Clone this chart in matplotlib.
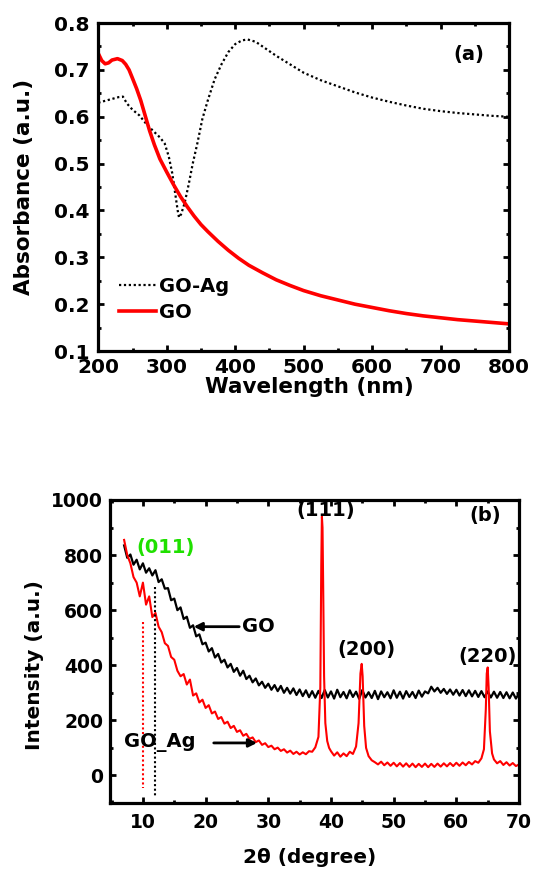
import numpy as np
import matplotlib
matplotlib.use("Agg")
import matplotlib.pyplot as plt
from matplotlib.ticker import MultipleLocator

plt.rcParams["font.family"] = "DejaVu Sans"
plt.rcParams["font.weight"] = "bold"
plt.rcParams["axes.labelweight"] = "bold"

# ---- (a) UV-Vis data ----
go_wl = [200, 205, 210, 215, 220, 228, 235, 240, 245, 250, 256, 262, 268, 275,
         282, 290, 300, 310, 320, 330, 340, 350, 360, 375, 390, 405, 420, 440,
         460, 480, 500, 525, 550, 575, 600, 625, 650, 675, 700, 725, 750, 775, 800]
go_abs = [0.735, 0.720, 0.713, 0.715, 0.721, 0.724, 0.720, 0.712, 0.700, 0.682,
          0.660, 0.635, 0.605, 0.570, 0.540, 0.510, 0.482, 0.455, 0.430, 0.408,
          0.388, 0.370, 0.355, 0.334, 0.315, 0.298, 0.283, 0.267, 0.252, 0.240,
          0.229, 0.218, 0.209, 0.200, 0.193, 0.186, 0.180, 0.175, 0.171, 0.167,
          0.164, 0.161, 0.158]

goag_wl = [200, 210, 220, 230, 236, 242, 250, 260, 270, 280, 290, 297, 303, 308,
           312, 316, 318, 321, 326, 332, 338, 345, 352, 360, 370, 380, 390, 400,
           410, 418, 430, 445, 460, 480, 500, 525, 550, 575, 600, 625, 650, 675,
           700, 725, 750, 775, 800]
goag_abs = [0.630, 0.634, 0.638, 0.642, 0.643, 0.628, 0.615, 0.603, 0.585, 0.570,
            0.556, 0.543, 0.515, 0.480, 0.440, 0.400, 0.385, 0.392, 0.415, 0.455,
            0.500, 0.545, 0.595, 0.635, 0.680, 0.712, 0.738, 0.755, 0.763, 0.765,
            0.760, 0.745, 0.730, 0.712, 0.694, 0.678, 0.665, 0.652, 0.641, 0.632,
            0.624, 0.617, 0.612, 0.608, 0.605, 0.602, 0.600]

# ---- (b) XRD data ----
go_2t = [7.0, 7.5, 8.0, 8.5, 9.0, 9.5, 10.0, 10.5, 11.0, 11.5,
         12.0, 12.5, 13.0, 13.5, 14.0, 14.5, 15.0, 15.5, 16.0, 16.5,
         17.0, 17.5, 18.0, 18.5, 19.0, 19.5, 20.0, 20.5, 21.0, 21.5,
         22.0, 22.5, 23.0, 23.5, 24.0, 24.5, 25.0, 25.5, 26.0, 26.5,
         27.0, 27.5, 28.0, 28.5, 29.0, 29.5, 30.0, 30.5, 31.0, 31.5,
         32.0, 32.5, 33.0, 33.5, 34.0, 34.5, 35.0, 35.5, 36.0, 36.5,
         37.0, 37.5, 38.0, 38.5, 39.0, 39.5, 40.0, 40.5, 41.0, 41.5,
         42.0, 42.5, 43.0, 43.5, 44.0, 44.5, 45.0, 45.5, 46.0, 46.5,
         47.0, 47.5, 48.0, 48.5, 49.0, 49.5, 50.0, 50.5, 51.0, 51.5,
         52.0, 52.5, 53.0, 53.5, 54.0, 54.5, 55.0, 55.5, 56.0, 56.5,
         57.0, 57.5, 58.0, 58.5, 59.0, 59.5, 60.0, 60.5, 61.0, 61.5,
         62.0, 62.5, 63.0, 63.5, 64.0, 64.5, 65.0, 65.5, 66.0, 66.5,
         67.0, 67.5, 68.0, 68.5, 69.0, 69.5, 70.0]
go_int = [835, 790, 802, 765, 783, 748, 770, 736, 752, 726,
          745, 702, 712, 678, 680, 636, 642, 600, 610, 568,
          576, 536, 545, 505, 512, 476, 482, 450, 462, 428,
          441, 410, 420, 392, 405, 376, 390, 362, 380, 350,
          362, 338, 352, 327, 340, 318, 333, 311, 328, 306,
          325, 300, 318, 297, 316, 292, 312, 288, 309, 284,
          306, 282, 307, 281, 310, 283, 305, 279, 311, 284,
          303, 280, 309, 285, 304, 278, 310, 283, 302, 281,
          307, 277, 305, 284, 302, 280, 309, 282, 304, 279,
          306, 285, 303, 281, 308, 286, 305, 298, 322, 305,
          318, 300, 314, 296, 312, 293, 311, 290, 310, 288,
          309, 287, 307, 285, 306, 284, 305, 283, 304, 282,
          303, 281, 302, 280, 301, 279, 298]

goag_2t = [7.0, 7.5, 8.0, 8.5, 9.0, 9.5, 10.0, 10.5, 11.0, 11.5,
           12.0, 12.5, 13.0, 13.5, 14.0, 14.5, 15.0, 15.5, 16.0, 16.5,
           17.0, 17.5, 18.0, 18.5, 19.0, 19.5, 20.0, 20.5, 21.0, 21.5,
           22.0, 22.5, 23.0, 23.5, 24.0, 24.5, 25.0, 25.5, 26.0, 26.5,
           27.0, 27.5, 28.0, 28.5, 29.0, 29.5, 30.0, 30.5, 31.0, 31.5,
           32.0, 32.5, 33.0, 33.5, 34.0, 34.5, 35.0, 35.5, 36.0, 36.5,
           37.0, 37.5, 38.0, 38.3, 38.45, 38.55, 38.65, 38.75, 38.9, 39.1,
           39.4, 39.7, 40.0, 40.5, 41.0, 41.5, 42.0, 42.5, 43.0, 43.5,
           44.0, 44.4, 44.7, 44.9, 45.05, 45.3, 45.6, 46.0, 46.5, 47.0,
           47.5, 48.0, 48.5, 49.0, 49.5, 50.0, 50.5, 51.0, 51.5, 52.0,
           52.5, 53.0, 53.5, 54.0, 54.5, 55.0, 55.5, 56.0, 56.5, 57.0,
           57.5, 58.0, 58.5, 59.0, 59.5, 60.0, 60.5, 61.0, 61.5, 62.0,
           62.5, 63.0, 63.5, 64.0, 64.4, 64.7, 64.85, 65.0, 65.15, 65.35,
           65.7, 66.0, 66.5, 67.0, 67.5, 68.0, 68.5, 69.0, 69.5, 70.0]
goag_int = [855, 800, 770, 720, 700, 650, 700, 620, 650, 575,
            590, 540, 520, 480, 470, 430, 420, 380, 360, 368,
            330, 348, 290, 298, 265, 275, 245, 255, 225, 232,
            205, 212, 188, 195, 172, 180, 158, 164, 144, 151,
            133, 138, 121, 127, 111, 117, 103, 108, 95, 101,
            89, 95, 83, 90, 78, 86, 76, 84, 77, 88,
            86, 102, 140, 320, 760, 940, 900, 700, 360, 190,
            125, 100, 88, 72, 84, 68, 80, 70, 86, 78,
            105, 190, 370, 405, 360, 180, 100, 70, 55, 48,
            40, 50, 37, 47, 35, 46, 33, 45, 32, 44,
            31, 43, 30, 42, 31, 43, 30, 42, 31, 43,
            32, 44, 33, 45, 34, 46, 35, 47, 37, 49,
            40, 52, 46, 62, 95, 240, 370, 392, 320, 160,
            80, 58, 44, 52, 38, 48, 36, 45, 34, 40]

green = "#20e000"

fig = plt.figure(figsize=(5.33, 8.73), dpi=100)

# ---------- panel (a) ----------
ax1 = fig.add_axes([0.1844, 0.5979, 0.7705, 0.3757])
ax1.plot(goag_wl, goag_abs, color="black", lw=1.6, dashes=(1, 1.2), label="GO-Ag")
ax1.plot(go_wl, go_abs, color="red", lw=2.6, label="GO")
ax1.set_xlim(200, 800)
ax1.set_ylim(0.1, 0.8)
ax1.xaxis.set_major_locator(MultipleLocator(100))
ax1.xaxis.set_minor_locator(MultipleLocator(50))
ax1.yaxis.set_major_locator(MultipleLocator(0.1))
ax1.yaxis.set_minor_locator(MultipleLocator(0.05))
ax1.set_xlabel("Wavelength (nm)", fontsize=15.5)
ax1.set_ylabel("Absorbance (a.u.)", fontsize=15.5)
ax1.xaxis.set_label_coords(0.513, -0.078)
ax1.yaxis.set_label_coords(-0.157, 0.5)
ax1.text(741, 0.733, "(a)", fontsize=14, ha="center", va="center")
ax1.legend(loc="lower left", bbox_to_anchor=(0.05, 0.09), frameon=False,
           fontsize=14, handlelength=1.9, handletextpad=0.15,
           labelspacing=0.35, borderpad=0, borderaxespad=0)

# ---------- panel (b) ----------
ax2 = fig.add_axes([0.2064, 0.0802, 0.7674, 0.3471])
ax2.plot(go_2t, go_int, color="black", lw=1.6)
ax2.plot(goag_2t, goag_int, color="red", lw=1.5)
ax2.plot([10, 10], [558, -45], color="red", lw=1.5, dashes=(1, 1.2))
ax2.plot([12, 12], [685, -77], color="black", lw=1.5, dashes=(1, 1.2))
ax2.set_xlim(4.75, 70)
ax2.set_ylim(-100, 1000)
ax2.xaxis.set_minor_locator(MultipleLocator(5))
ax2.yaxis.set_minor_locator(MultipleLocator(100))
ax2.set_xticks([10, 20, 30, 40, 50, 60, 70])
ax2.set_yticks([0, 200, 400, 600, 800, 1000])
ax2.set_xlabel("2θ (degree)", fontsize=14.5)
ax2.set_ylabel("Intensity (a.u.)", fontsize=14.5)
ax2.xaxis.set_label_coords(0.489, -0.149)
ax2.yaxis.set_label_coords(-0.161, 0.455)

ax2.text(13.6, 826, "(011)", color=green, fontsize=14, ha="center", va="center")
ax2.text(39.2, 962, "(111)", fontsize=14, ha="center", va="center")
ax2.text(64.6, 942, "(b)", fontsize=14, ha="center", va="center")
ax2.text(45.7, 457, "(200)", fontsize=14, ha="center", va="center")
ax2.text(64.9, 430, "(220)", fontsize=14, ha="center", va="center")
ax2.annotate("GO", xy=(18.1, 540), xytext=(25.8, 540), fontsize=14,
             ha="left", va="center",
             arrowprops=dict(arrowstyle="-|>", color="black", lw=2,
                             mutation_scale=12, shrinkA=0, shrinkB=0))
ax2.text(7.0, 118, "GO_Ag", fontsize=14, ha="left", va="center")
ax2.annotate("", xy=(28.2, 118), xytext=(21.3, 118),
             arrowprops=dict(arrowstyle="-|>", color="black", lw=2,
                             mutation_scale=12, shrinkA=0, shrinkB=0))

for ax in (ax1, ax2):
    for s in ax.spines.values():
        s.set_linewidth(2.3)
    ax.tick_params(which="both", direction="in", top=True, right=True, width=2)
    ax.tick_params(which="major", length=4, labelsize=14.5, pad=6)
    ax.tick_params(which="minor", length=2.5)
ax2.tick_params(which="major", labelsize=13.5, pad=5)
ax1.tick_params(axis="x", which="major", pad=5)
ax2.tick_params(axis="x", which="major", pad=7)

fig.savefig("out.png", dpi=100)
